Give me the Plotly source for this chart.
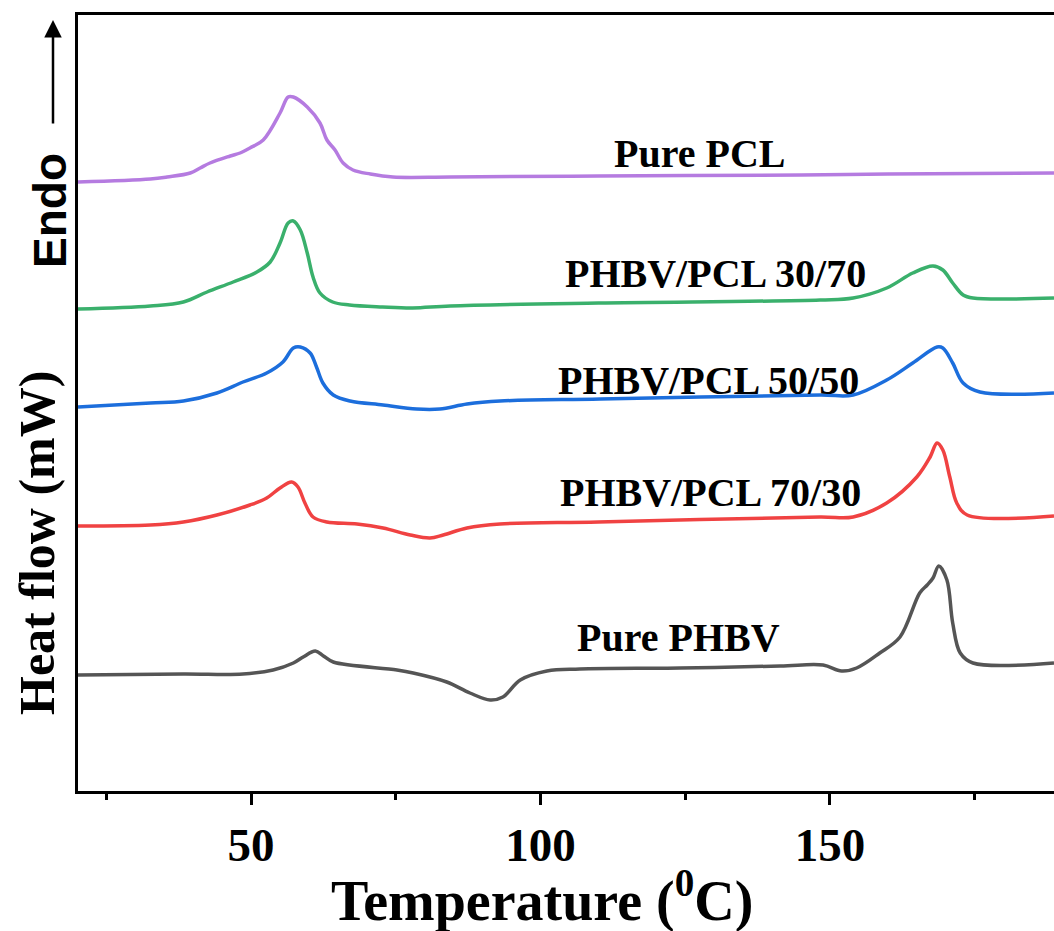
import plotly.graph_objects as go

# Temperatures (°C) and heat-flow readings (arbitrary offset units) per sample
pcl_T = [20.1, 32.6, 35.5, 39.5, 41.2, 42.9, 46.4, 48.1, 49.8, 52.1, 55.0, 56.4, 57.3, 59.7,
         61.9, 63.1, 64.5, 65.9, 67.6, 70.6, 74.5, 84.4, 110.0, 145.0, 160.0, 188.7]
pcl_H = [609, 612, 614, 618, 623, 628, 635, 638, 643, 651, 678, 694, 694, 684,
         668, 651, 641, 628, 621, 617, 614, 614, 615, 616, 617, 618]

b3070_T = [20.1, 32.6, 38.3, 42.4, 46.9, 51.0, 53.3, 55.0, 56.4, 57.3, 58.5, 59.7, 60.7, 61.9,
           64.1, 67.0, 72.7, 77.9, 84.4, 110.0, 148.3, 154.0, 159.8, 164.3, 167.8, 169.5,
           171.2, 173.0, 174.7, 188.7]
b3070_H = [482, 485, 489, 499, 509, 519, 529, 548, 568, 570, 561, 538, 514, 498,
           489, 486, 484, 483, 485, 488, 491, 493, 503, 518, 525, 521,
           508, 496, 493, 493]

b5050_T = [20.1, 32.6, 38.3, 44.1, 48.6, 52.7, 55.5, 57.3, 58.5, 60.2, 61.3, 62.4, 64.2,
           67.1, 72.8, 78.6, 82.6, 87.3, 93.0, 110.3, 148.3, 154.0, 159.8, 164.3, 168.5,
           169.5, 171.2, 173.0, 175.9, 188.7]
b5050_H = [384, 388, 390, 398, 409, 418, 429, 443, 444, 438, 424, 408, 396,
           390, 386, 382, 382, 387, 390, 392, 396, 396, 411, 428, 444,
           443, 428, 408, 399, 398]

b7030_T = [20.1, 32.6, 38.3, 44.1, 49.8, 52.7, 55.0, 57.0, 58.1, 59.3, 60.7, 63.1, 68.3,
           72.8, 77.5, 80.9, 83.2, 87.3, 93.0, 110.0, 148.3, 154.0, 159.8, 165.0, 167.3,
           168.5, 169.5, 170.7, 171.9, 173.7, 188.7]
b7030_H = [265, 266, 269, 276, 286, 293, 303, 309, 304, 288, 274, 269, 267,
           263, 256, 253, 256, 263, 267, 269, 274, 274, 288, 314, 334,
           348, 341, 314, 288, 276, 275]

phbv_T = [20.1, 38.3, 48.6, 53.8, 57.3, 59.0, 61.1, 62.5, 64.2, 75.2, 78.0, 83.8, 87.8,
          91.3, 93.5, 96.5, 101.1, 106.8, 124.1, 141.4, 148.8, 152.0, 154.6, 158.6, 162.1,
          165.5, 166.8, 167.8, 168.8, 170.2, 171.2, 172.5, 174.7, 188.7]
phbv_H = [116, 117, 117, 121, 128, 134, 140, 135, 129, 121, 118, 109, 98,
          91, 94, 111, 120, 122, 123, 125, 126, 120, 123, 138, 154,
          198, 206, 213, 225, 211, 168, 138, 128, 128]

series_names = ["Pure PCL", "PHBV/PCL 30/70", "PHBV/PCL 50/50", "PHBV/PCL 70/30", "Pure PHBV"]
series_T = [pcl_T, b3070_T, b5050_T, b7030_T, phbv_T]
series_H = [pcl_H, b3070_H, b5050_H, b7030_H, phbv_H]
colors = ["#B57BE0", "#3AB06C", "#1C6EDC", "#F04242", "#555555"]

# Label positions (temperature, heat-flow units)
label_T = [127.5, 130.3, 129.1, 129.4, 123.9]
label_H = [638, 518, 411, 299, 154]

x_range = [20.1, 188.7]
y_range = [0, 776]
major_ticks = [50, 100, 150]
minor_ticks = [25, 75, 125, 175]

fig = go.Figure()
for name, T, H, c in zip(series_names, series_T, series_H, colors):
    fig.add_trace(go.Scatter(x=T, y=H, mode="lines", name=name,
                             line=dict(color=c, width=3.5, shape="spline", smoothing=1.0),
                             showlegend=False))

serif = "Liberation Serif, Times New Roman, serif"
for name, lt, lh in zip(series_names, label_T, label_H):
    fig.add_annotation(x=lt, y=lh, xref="x", yref="y", text=name, showarrow=False,
                       xanchor="center", yanchor="middle",
                       font=dict(family=serif, size=40, color="black", weight="bold"))

W, Hh = 1054, 931
ml, mr, mt, mb = 78, 0, 15, 140
pw, ph = W - ml - mr, Hh - mt - mb

def px(xp):
    return (xp - ml) / pw

def py(yp):
    return (Hh - mb - yp) / ph

# X axis title
fig.add_annotation(x=px(542), y=py(897), xref="paper", yref="paper",
                   xanchor="center", yanchor="middle",
                   text="Temperature (<sup>0</sup>C)", showarrow=False,
                   font=dict(family=serif, size=56, color="black", weight="bold"))
# Y axis title
fig.add_annotation(x=px(37), y=py(543), xref="paper", yref="paper", textangle=-90,
                   xanchor="center", yanchor="middle",
                   text="Heat flow (mW)", showarrow=False,
                   font=dict(family=serif, size=50, color="black", weight="bold"))
# Endo label
fig.add_annotation(x=px(50), y=py(211), xref="paper", yref="paper", textangle=-90,
                   xanchor="center", yanchor="middle",
                   text="Endo", showarrow=False,
                   font=dict(family="Liberation Sans, Arial, sans-serif", size=46,
                             color="black", weight="bold"))
# Arrow
fig.add_annotation(x=px(53), y=py(20), xref="paper", yref="paper", text="",
                   showarrow=True, ax=0, ay=105, arrowhead=2, arrowsize=1.4,
                   arrowwidth=2.5, arrowcolor="black")

fig.update_layout(
    width=W, height=Hh,
    margin=dict(l=ml, r=mr, t=mt, b=mb, autoexpand=False),
    plot_bgcolor="white", paper_bgcolor="white",
    showlegend=False,
)
fig.update_xaxes(range=x_range, showgrid=False, zeroline=False,
                 showline=True, linecolor="black", linewidth=3, mirror=True,
                 tickmode="array", tickvals=major_ticks,
                 ticks="outside", ticklen=11, tickwidth=3, tickcolor="black",
                 tickfont=dict(family=serif, size=47, color="black", weight="bold"),
                 minor=dict(tickmode="array", tickvals=minor_ticks, ticks="outside",
                            ticklen=6, tickwidth=3, tickcolor="black"))
fig.update_yaxes(range=y_range, showgrid=False, zeroline=False,
                 showline=True, linecolor="black", linewidth=3, mirror=False,
                 showticklabels=False, ticks="")

fig.write_html("out.html", config={"displayModeBar": False},
               post_script="document.body.style.margin='0';document.body.style.overflow='hidden';")
